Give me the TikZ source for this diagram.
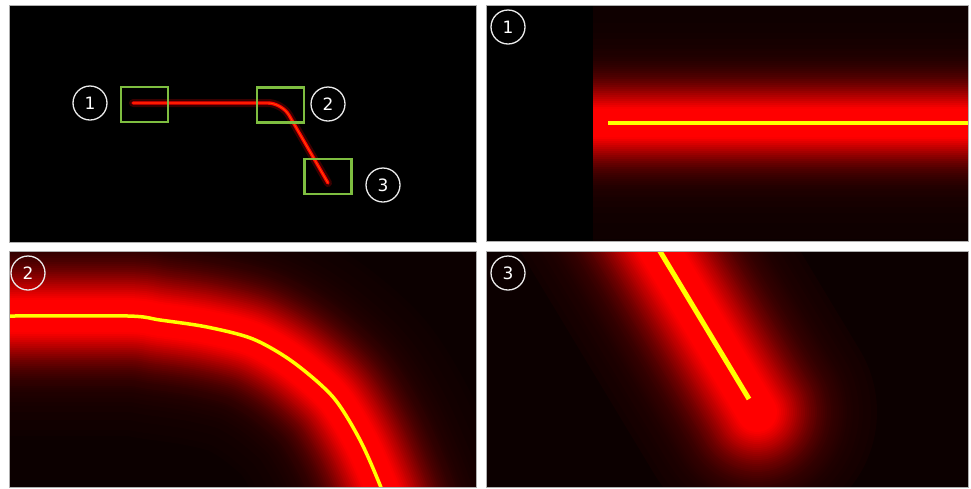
\documentclass[tikz,border=0pt]{standalone}
\usepackage{fontspec}
\newfontfamily\numfont{DejaVu Sans}
\definecolor{boxgreen}{RGB}{126, 190, 64}
\definecolor{framegray}{RGB}{175, 175, 175}
\definecolor{darkbg}{RGB}{12, 0, 0}
\definecolor{beamyellow}{RGB}{255, 255, 0}
\usepackage{tikz}
\usetikzlibrary{calc}

\newcommand{\glowbeam}[3]{%
  \foreach \r in {120,118,...,2} {
    \pgfmathtruncatemacro{\pct}{min(100, 102*exp(-((\r/#1/10)^2)/13) + 15*exp(-((\r/#1/10)^2)/50))}
    \draw[line width={2*\r pt}, line cap=#2, line join=round, red!\pct!darkbg] #3;
  }%
}

\begin{document}
\begin{tikzpicture}[x=1pt, y=-1pt,
  panel/.style={draw=framegray, line width=0.8pt},
  zoombox/.style={draw=boxgreen, line width=2.4pt, minimum width=47pt, minimum height=35pt, inner sep=0pt},
  tag/.style={circle, draw=white!92!black, line width=1.3pt, minimum size=34pt, inner sep=0pt,
    text=white, font=\numfont\fontsize{17}{17}\selectfont}]

  \useasboundingbox (0,0) rectangle (971,488);
  \fill[white] (0,0) rectangle (971,488);

  % overview
  \fill[black] (9,5) rectangle (476,242);
  \begin{scope}
    \clip (9,5) rectangle (476,242);
    \draw[line width=8pt, red!22!black, rounded corners=14pt, line cap=round] (133,103) -- (282,103) -- (328,183);
    \draw[line width=3.4pt, red, rounded corners=14pt, line cap=round] (133,103) -- (282,103) -- (328,183);
    \draw[line width=0.9pt, red!70!yellow, rounded corners=14pt, line cap=round] (133,103) -- (282,103) -- (328,183);
  \end{scope}
  \draw[panel] (9,5) rectangle (476,242);
  \node[zoombox] (box1) at (144.5,104.5) {};
  \node[zoombox] (box2) at (280.5,105) {};
  \node[zoombox] (box3) at (328,176.5) {};
  \node[tag] (tag1) at (90,103) {1};
  \node[tag] (tag2) at (328,104) {2};
  \node[tag] (tag3) at (383,185) {3};

  % zoom 1
  \fill[black] (486,5) rectangle (968,241);
  \begin{scope}
    \clip (486,5) rectangle (968,241);
    \fill[darkbg] (593,5) rectangle (968,241);
    \glowbeam{1}{butt}{(593,123) -- (990,123)}
    \draw[beamyellow, line width=4pt] (608,123) -- (975,123);
  \end{scope}
  \draw[panel] (486,5) rectangle (968,241);
  \node[tag] (zoom1) at (508,27) {1};

  % zoom 2
  \fill[darkbg] (9,251) rectangle (476,487);
  \begin{scope}
    \clip (9,251) rectangle (476,487);
    \glowbeam{1.15}{round}{plot[smooth] coordinates {(-60,316) (9,316) (128,316) (160,320) (207,327) (253,339) (293,362) (333,397) (360,440) (382,490) (400,540)}}
    \draw[beamyellow, line width=3.5pt] plot[smooth] coordinates {(-60,316) (9,316) (128,316) (160,320) (207,327) (253,339) (293,362) (333,397) (360,440) (382,490) (400,540)};
  \end{scope}
  \draw[panel] (9,251) rectangle (476,487);
  \node[tag] (zoom2) at (28,273) {2};

  % zoom 3
  \fill[darkbg] (486,251) rectangle (968,487);
  \begin{scope}
    \clip (486,251) rectangle (968,487);
    \glowbeam{1.35}{round}{(600,151) -- (757,412)}
    \draw[beamyellow, line width=5pt] (655,243) -- (749,399);
  \end{scope}
  \draw[panel] (486,251) rectangle (968,487);
  \node[tag] (zoom3) at (508,273) {3};
\end{tikzpicture}
\end{document}
